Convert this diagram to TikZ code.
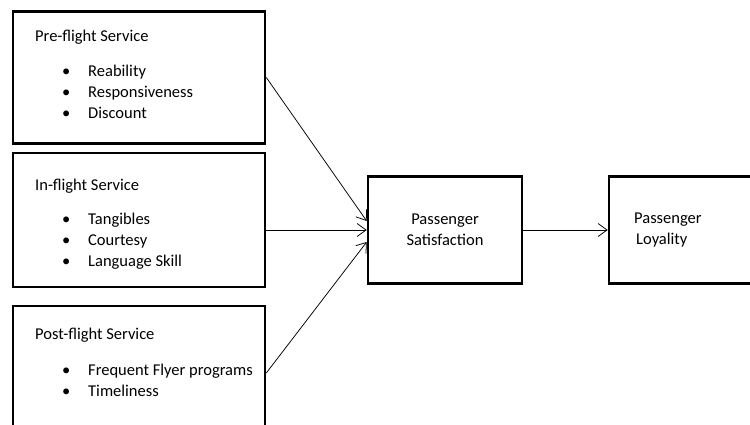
\documentclass[tikz,border=0pt]{standalone}
\usepackage{fontspec}
\setmainfont{Carlito}
\usetikzlibrary{arrows.meta, positioning}

\newcommand{\bul}[1]{\hspace*{27pt}\makebox[26pt][l]{\textbullet}#1}

\begin{document}
\begin{tikzpicture}[x=1pt, y=-1pt,
    factor/.style={rectangle, draw=black, line width=2.6pt, minimum width=252pt, minimum height=132pt, inner sep=0pt},
    outcome/.style={rectangle, draw=black, line width=2.6pt, minimum height=107pt, inner sep=0pt},
    txt/.style={inner sep=0pt, align=left, font=\fontsize{16.5}{21}\selectfont},
    flow/.style={-{Straight Barb[length=9pt, width=13pt]}, line width=0.75pt}
]
    \useasboundingbox (0,0) rectangle (750,424);

    % Service factors
    \node[factor] (pre) at (139, 77.5) {};
    \node[txt, anchor=north west] (pretxt) at (35, 26.3) {\strut Pre-flight Service\\[14pt]\bul{Reability}\\\bul{Responsiveness}\\\bul{Discount}};

    \node[factor, minimum height=134pt] (in) at (139, 220) {};
    \node[txt, anchor=north west] (intxt) at (35, 175.3) {\strut In-flight Service\\[13pt]\bul{Tangibles}\\\bul{Courtesy}\\\bul{Language Skill}};

    \node[factor, minimum height=134pt] (post) at (139, 373) {};
    \node[txt, anchor=north west] (posttxt) at (35, 324.3) {\strut Post-flight Service\\[15pt]\bul{Frequent Flyer programs}\\\bul{Timeliness}};

    % Outcomes
    \node[outcome, minimum width=154pt, txt, align=center] (sat) at (445, 230) {Passenger\\Satisfaction};
    \node[outcome, minimum width=152pt] (loyal) at (685, 230) {};
    \node[txt, anchor=west] (loyaltxt) at (634, 230) {Passenger\\\hspace*{2pt}Loyality};

    % Links
    \draw[flow] (pre.east) -- ([yshift=9pt]sat.west);
    \draw[flow] ([yshift=-10pt]in.east) -- (sat.west);
    \draw[flow] (post.east) -- ([yshift=-12pt]sat.west);
    \draw[flow] (sat) -- (loyal);

\end{tikzpicture}
\end{document}
